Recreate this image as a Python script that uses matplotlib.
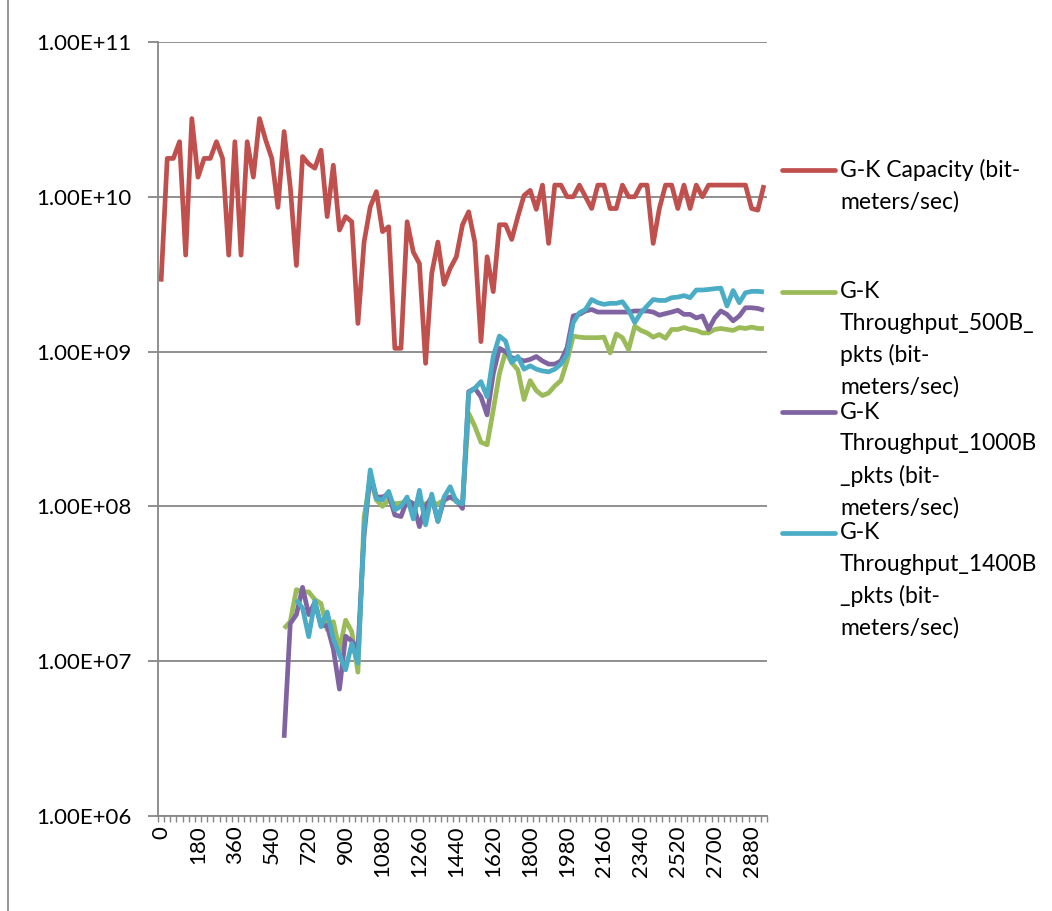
import numpy as np
import matplotlib
matplotlib.use('Agg')
import matplotlib.pyplot as plt
from matplotlib.lines import Line2D
from matplotlib.patches import Rectangle
from matplotlib.ticker import FixedLocator, FuncFormatter, NullLocator

plt.rcParams['font.family'] = ['Lato', 'DejaVu Sans']

nan = np.nan

# ---- data -------------------------------------------------------------
times = list(range(0, 2941, 30))          # 99 categories (seconds)
tick_labels = ['0', '180', '360', '540', '720', '900', '1080', '1260', '1440',
               '1620', '1800', '1980', '2160', '2340', '2520', '2700', '2880']

capacity = [2.83e9, 1.77e10, 1.77e10, 2.27e10, 4.2e9, 3.2e10, 1.34e10, 1.77e10,
            1.77e10, 2.27e10, 1.77e10, 4.2e9, 2.27e10, 4.2e9, 2.27e10, 1.34e10,
            3.2e10, 2.33e10, 1.77e10, 8.55e9, 2.64e10, 1.16e10, 3.6e9, 1.82e10,
            1.63e10, 1.53e10, 2.0e10, 7.45e9, 1.6e10, 6.1e9, 7.45e9, 6.9e9,
            1.52e9, 5.1e9, 8.6e9, 1.08e10, 5.96e9, 6.4e9, 1.05e9, 1.05e9,
            6.9e9, 4.4e9, 3.7e9, 8.4e8, 3.2e9, 5.1e9, 2.72e9, 3.45e9,
            4.1e9, 6.6e9, 8.0e9, 5.1e9, 1.16e9, 4.1e9, 2.44e9, 6.6e9,
            6.6e9, 5.3e9, 7.45e9, 1.02e10, 1.1e10, 8.3e9, 1.19e10, 5.0e9,
            1.19e10, 1.19e10, 1.0e10, 1.0e10, 1.19e10, 1.0e10, 8.4e9, 1.19e10,
            1.19e10, 8.4e9, 8.4e9, 1.19e10, 1.0e10, 1.0e10, 1.19e10, 1.19e10,
            5.0e9, 8.4e9, 1.19e10, 1.19e10, 8.4e9, 1.19e10, 8.4e9, 1.19e10,
            1.0e10, 1.19e10, 1.19e10, 1.19e10, 1.19e10, 1.19e10, 1.19e10, 1.19e10,
            8.4e9, 8.2e9, 1.19e10]

thr_500 = [nan] * 20 + [
    1.63e7, 1.8e7, 2.9e7, 2.8e7, 2.8e7, 2.5e7, 2.36e7, 1.6e7,
    1.8e7, 1.18e7, 1.84e7, 1.55e7, 8.5e6, 8.5e7, 1.5e8, 1.1e8,
    1.0e8, 1.1e8, 1.04e8, 1.05e8, 1.08e8, 1.04e8, 1.04e8, 1.04e8,
    1.04e8, 1.04e8, 1.1e8, 1.15e8, 1.08e8, 1.04e8, 4.0e8, 3.3e8,
    2.6e8, 2.5e8, 4.2e8, 7.2e8, 1.0e9, 8.5e8, 7.6e8, 4.9e8,
    6.5e8, 5.6e8, 5.2e8, 5.4e8, 6.0e8, 6.5e8, 8.7e8, 1.26e9,
    1.24e9, 1.23e9, 1.23e9, 1.23e9, 1.24e9, 9.8e8, 1.3e9, 1.23e9,
    1.03e9, 1.46e9, 1.37e9, 1.32e9, 1.24e9, 1.29e9, 1.22e9, 1.39e9,
    1.39e9, 1.43e9, 1.39e9, 1.37e9, 1.32e9, 1.32e9, 1.39e9, 1.41e9,
    1.39e9, 1.37e9, 1.43e9, 1.41e9, 1.44e9, 1.41e9, 1.41e9]

thr_1000 = [nan] * 20 + [
    3.2e6, 1.75e7, 2.0e7, 3.0e7, 2.0e7, 2.4e7, 1.7e7, 1.7e7,
    1.2e7, 6.6e6, 1.45e7, 1.35e7, 1.2e7, 6.5e7, 1.6e8, 1.15e8,
    1.15e8, 1.2e8, 8.8e7, 8.6e7, 1.1e8, 1.04e8, 7.4e7, 1.0e8,
    1.15e8, 8.0e7, 1.1e8, 1.15e8, 1.1e8, 9.7e7, 5.5e8, 5.8e8,
    5.1e8, 3.9e8, 7.2e8, 1.05e9, 1.0e9, 9.1e8, 9.0e8, 8.7e8,
    8.9e8, 9.3e8, 8.7e8, 8.3e8, 8.3e8, 8.7e8, 1.06e9, 1.7e9,
    1.74e9, 1.83e9, 1.87e9, 1.8e9, 1.8e9, 1.8e9, 1.8e9, 1.8e9,
    1.8e9, 1.83e9, 1.83e9, 1.83e9, 1.8e9, 1.72e9, 1.76e9, 1.8e9,
    1.85e9, 1.74e9, 1.74e9, 1.65e9, 1.7e9, 1.39e9, 1.65e9, 1.83e9,
    1.74e9, 1.58e9, 1.7e9, 1.92e9, 1.92e9, 1.9e9, 1.85e9]

thr_1400 = [nan] * 22 + [
    2.5e7, 2.2e7, 1.44e7, 2.45e7, 1.67e7, 2.08e7,
    1.4e7, 1.1e7, 8.8e6, 1.3e7, 9.7e6, 7.1e7, 1.72e8, 1.12e8,
    1.1e8, 1.25e8, 9.5e7, 1.0e8, 1.15e8, 8.3e7, 1.27e8, 7.6e7,
    1.2e8, 8.0e7, 1.15e8, 1.34e8, 1.07e8, 1.04e8, 5.4e8, 5.8e8,
    6.4e8, 5.1e8, 9.3e8, 1.26e9, 1.17e9, 8.5e8, 9.3e8, 7.7e8,
    8.1e8, 7.7e8, 7.5e8, 7.4e8, 7.7e8, 8.3e8, 9.6e8, 1.54e9,
    1.78e9, 1.87e9, 2.17e9, 2.07e9, 2.02e9, 2.05e9, 2.05e9, 2.1e9,
    1.85e9, 1.54e9, 1.78e9, 1.97e9, 2.17e9, 2.14e9, 2.14e9, 2.23e9,
    2.25e9, 2.3e9, 2.23e9, 2.5e9, 2.5e9, 2.52e9, 2.55e9, 2.57e9,
    1.97e9, 2.48e9, 2.07e9, 2.4e9, 2.45e9, 2.45e9, 2.43e9]

series_names = [
    ['G-K Capacity (bit-', 'meters/sec)'],
    ['G-K', 'Throughput_500B_', 'pkts (bit-', 'meters/sec)'],
    ['G-K', 'Throughput_1000B', '_pkts (bit-', 'meters/sec)'],
    ['G-K', 'Throughput_1400B', '_pkts (bit-', 'meters/sec)'],
]
series_values = [capacity, thr_500, thr_1000, thr_1400]
colors = ['#C0504D', '#9BBB59', '#8064A2', '#4BACC6']

# ---- figure -----------------------------------------------------------
W, H = 1052, 911
fig = plt.figure(figsize=(W / 100, H / 100), dpi=100)
fig.patch.set_facecolor('white')

# outer chart border (Excel chart area; only the left edge falls inside)
fig.patches.append(Rectangle((8 / W, -6 / H), (W + 10 - 8) / W, (H + 12) / H,
                             transform=fig.transFigure, fill=False,
                             edgecolor='#8C8C8C', linewidth=1.3))

ax = fig.add_axes([158 / W, 1 - 816 / H, (767 - 158) / W, (816 - 42) / H])

idx = np.arange(len(times))
for vals, col in zip(series_values, colors):
    ax.plot(idx, np.array(vals, dtype=float), color=col, linewidth=3.4,
            solid_joinstyle='round', solid_capstyle='butt')

ax.set_yscale('log')
ax.set_ylim(1e6, 1e11)
ax.set_xlim(-0.5, len(times) - 0.5)

grid_col = '#878787'
ax.yaxis.set_major_locator(FixedLocator([1e6, 1e7, 1e8, 1e9, 1e10, 1e11]))
ax.yaxis.set_minor_locator(NullLocator())
ax.yaxis.set_major_formatter(FuncFormatter(
    lambda v, p: '1.00E+%02d' % int(round(np.log10(v)))))
ax.grid(axis='y', which='major', color=grid_col, linewidth=1.3)
ax.set_axisbelow(True)

label_pos = [times.index(int(t)) for t in tick_labels]
ax.xaxis.set_major_locator(FixedLocator(label_pos))
ax.set_xticklabels(tick_labels, rotation=90)
ax.xaxis.set_minor_locator(FixedLocator(np.arange(len(times) + 1) - 0.5))

ax.tick_params(axis='x', which='major', length=0, pad=7, labelsize=16,
               colors='black')
ax.tick_params(axis='x', which='minor', length=4.5, width=1.0,
               direction='out', color=grid_col)
ax.tick_params(axis='y', which='major', length=7, width=1.3,
               direction='out', color=grid_col, pad=12, labelsize=16)

for s in ['top', 'right']:
    ax.spines[s].set_visible(False)
for s in ['left', 'bottom']:
    ax.spines[s].set_color(grid_col)
    ax.spines[s].set_linewidth(1.3)

# ---- legend (Excel-style, handle aligned with first text line) ---------
entry_y = [170, 291.5, 412, 532.8]
line_step = 31.8
for lines, col, y0 in zip(series_names, colors, entry_y):
    fig.add_artist(Line2D([782 / W, 835 / W], [1 - y0 / H, 1 - y0 / H],
                          transform=fig.transFigure, color=col,
                          linewidth=3.4, solid_capstyle='round'))
    for j, t in enumerate(lines):
        fig.text(840 / W, 1 - (y0 + j * line_step) / H, t, fontsize=16.5,
                 va='center', ha='left', color='black')

fig.savefig('out.png', dpi=100)
